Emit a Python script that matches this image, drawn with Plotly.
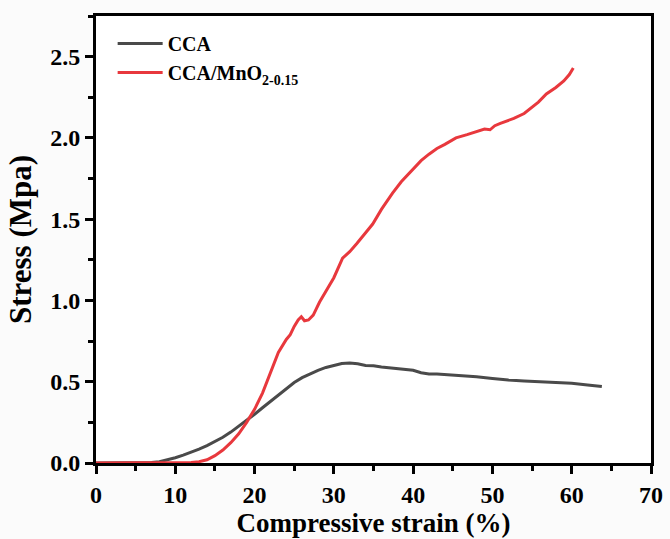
import plotly.graph_objects as go

cca_x = [0, 2, 4, 6, 7, 8, 9, 10, 11, 12, 13, 14, 15, 16, 17, 18, 19, 20, 21, 22, 23, 24, 25, 26, 27, 28,
         29, 30, 31, 32, 33, 34, 35, 36, 37, 38, 39, 40, 41, 42, 43, 44, 46, 48, 50, 52, 54, 56, 58, 60, 62, 63.8]
cca_y = [0, 0, 0, 0.0, 0.003, 0.008, 0.018, 0.032, 0.048, 0.066, 0.085, 0.107, 0.13, 0.158, 0.19, 0.225,
         0.26, 0.30, 0.34, 0.38, 0.42, 0.46, 0.495, 0.525, 0.55, 0.57, 0.588, 0.60, 0.612, 0.615, 0.61, 0.60,
         0.598, 0.59, 0.585, 0.58, 0.578, 0.57, 0.555, 0.548, 0.548, 0.545, 0.538, 0.53, 0.52, 0.51, 0.505,
         0.50, 0.495, 0.49, 0.48, 0.47]

mno_x = [0, 4, 8, 11, 12, 13, 14, 15, 16, 17, 18, 19, 20, 21, 22, 23, 24, 24.5, 25, 25.5, 25.9, 26.3, 26.8,
         27.4, 28.2, 29, 30, 31.1, 32, 32.9, 34, 34.9, 36, 37.4, 38.5, 39.9, 41, 42, 43, 44, 45.4, 46.8, 48,
         49, 49.7, 50.3, 51, 52.7, 54, 54.8, 55.8, 56.8, 58, 59, 59.7, 60.2]
mno_y = [0, 0, 0, 0.001, 0.003, 0.008, 0.02, 0.045, 0.08, 0.125, 0.18, 0.25, 0.33, 0.43, 0.56, 0.68, 0.76,
         0.79, 0.84, 0.88, 0.90, 0.875, 0.88, 0.91, 0.99, 1.06, 1.14, 1.26, 1.30, 1.35, 1.42, 1.47, 1.56,
         1.66, 1.73, 1.80, 1.86, 1.90, 1.935, 1.96, 2.0, 2.02, 2.04, 2.055, 2.05, 2.075, 2.09, 2.12, 2.15,
         2.18, 2.22, 2.27, 2.31, 2.35, 2.39, 2.43]

x_ticks = [0, 10, 20, 30, 40, 50, 60, 70]
y_ticks = [0.0, 0.5, 1.0, 1.5, 2.0, 2.5]

FONT = "Liberation Serif"

fig = go.Figure()
fig.add_trace(go.Scatter(x=cca_x, y=cca_y, mode="lines", name="<b>CCA</b>",
                         line=dict(color="#4a4a4a", width=3)))
fig.add_trace(go.Scatter(x=mno_x, y=mno_y, mode="lines", name="<b>CCA/MnO<sub>2-0.15</sub></b>",
                         line=dict(color="#e8383d", width=3)))

axis_common = dict(
    showline=True, linecolor="black", linewidth=3, mirror=True,
    ticks="outside", ticklen=8, tickwidth=2.5, tickcolor="black",
    showgrid=False, zeroline=False, automargin=False,
    tickfont=dict(family=FONT, size=24, color="black", weight="bold"),
)

fig.update_xaxes(range=[0, 70], tickvals=x_ticks, ticktext=[str(v) for v in x_ticks],
                 minor=dict(ticks="outside", ticklen=5, tickwidth=2.5, tickcolor="black", dtick=5, tick0=0),
                 title=dict(text="<b>Compressive strain (%)</b>", font=dict(family=FONT, size=27, color="black"),
                            standoff=6),
                 **axis_common)
fig.update_yaxes(range=[0, 2.75], tickvals=y_ticks, ticktext=[f"{v:.1f}" for v in y_ticks],
                 minor=dict(ticks="outside", ticklen=5, tickwidth=2.5, tickcolor="black", dtick=0.25, tick0=0),
                 title=dict(text="<b>Stress (Mpa)</b>", font=dict(family=FONT, size=31, color="black"),
                            standoff=10),
                 **axis_common)

fig.update_layout(
    width=670, height=539,
    margin=dict(l=96, r=19, t=16, b=76),
    paper_bgcolor="#fbfbfb", plot_bgcolor="white",
    showlegend=True,
    legend=dict(x=0.03, y=0.982, xanchor="left", yanchor="top", bgcolor="rgba(0,0,0,0)",
                font=dict(family=FONT, size=20, color="black"), tracegroupgap=0, itemwidth=45),
)

fig.write_html("out.html")
